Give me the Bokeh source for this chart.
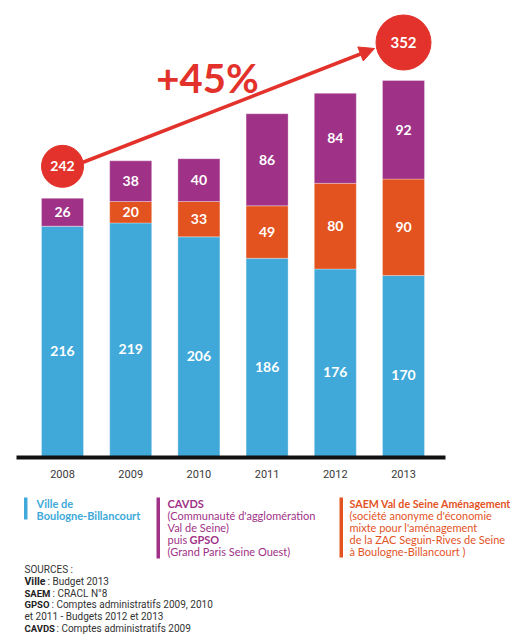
from bokeh.plotting import figure
from bokeh.models import Range1d, Arrow, NormalHead, ColumnDataSource
from bokeh.core.properties import value
from bokeh.embed import file_html
from bokeh.resources import INLINE

# ---- data ----
years = ["2008", "2009", "2010", "2011", "2012", "2013"]
ville = [216, 219, 206, 186, 176, 170]
saem = [0, 20, 33, 49, 80, 90]
gpso = [26, 38, 40, 86, 84, 92]
totals = [a + b + c for a, b, c in zip(ville, saem, gpso)]

legend_ville = ["Ville de", "Boulogne-Billancourt"]
legend_gpso = ["CAVDS", "(Communauté d'agglomération", "Val de Seine)", "puis", "GPSO", "(Grand Paris Seine Ouest)"]
legend_saem = ["SAEM Val de Seine Aménagement", "(société anonyme d'économie", "mixte pour l'aménagement",
               "de la ZAC Seguin-Rives de Seine", "à Boulogne-Billancourt )"]
sources = [("", "SOURCES :"), ("Ville", ": Budget 2013"), ("SAEM", ": CRACL N°8"),
           ("GPSO", ": Comptes administratifs 2009, 2010"), ("", "et 2011 - Budgets 2012 et 2013"),
           ("CAVDS", ": Comptes administratifs 2009")]

BLUE = "#40a9d9"
ORANGE = "#e3531f"
PURPLE = "#9f3287"
RED = "#e2322b"
DARK = "#3a3a3a"
FONT = "Lato"

# pixel helpers (page pixels -> data)
PX0, PXSTEP, BASE, SCALE = 62.0, 68.2, 457.0, 1.071
def X(px):
    return (px - PX0) / PXSTEP
def Y(py):
    return (BASE - py) / SCALE

W, H = 519, 635
p = figure(width=W, height=H, x_range=Range1d(X(0), X(W)), y_range=Range1d(Y(H), Y(0)),
           output_backend="svg", toolbar_location=None, min_border=0,
           x_axis_type=None, y_axis_type=None)
p.grid.visible = False
p.outline_line_color = None
p.background_fill_color = "white"

xs = list(range(len(years)))
src = ColumnDataSource(dict(x=xs, ville=ville, saem=saem, gpso=gpso))
p.vbar_stack(["ville", "saem", "gpso"], x="x", width=0.616, color=[BLUE, ORANGE, PURPLE],
             line_color="white", line_width=0.6, line_alpha=0.5, source=src)

# segment labels
lx, ly, lt = [], [], []
for i in xs:
    base = 0
    for k, v in enumerate((ville[i], saem[i], gpso[i])):
        if v > 0:
            off = -9 / SCALE if k == 0 else 0
            lx.append(i)
            ly.append(base + v / 2 + off)
            lt.append(str(v))
        base += v
p.text(x=lx, y=ly, text=lt, text_color="white", text_font=value(FONT), text_font_style="bold",
       text_font_size="14px", text_align="center", text_baseline="middle")

# baseline
p.segment(x0=[X(16)], y0=[0], x1=[X(445)], y1=[0], line_width=4, line_color="#111111")

# year labels
p.text(x=xs, y=[Y(473)] * len(xs), text=years, text_color=DARK, text_font=value("Roboto"),
       text_font_size="11px", text_align="center", text_baseline="middle")

# total circles
cx = [0, len(years) - 1]
cy = [totals[0] + 32 / SCALE, totals[-1] + 38 / SCALE]
p.scatter(x=cx, y=cy, size=[42, 55], fill_color=RED, line_color=RED)
p.text(x=cx, y=cy, text=[str(totals[0]), str(totals[-1])], text_color="white",
       text_font=value(FONT), text_font_style="bold", text_font_size=["14px", "15px"],
       text_align="center", text_baseline="middle")

# arrow
p.add_layout(Arrow(end=NormalHead(size=15, fill_color=RED, line_color=RED),
                   x_start=X(82), y_start=Y(162), x_end=X(374), y_end=Y(48),
                   line_color=RED, line_width=3.5))
pct = round((totals[-1] - totals[0]) / totals[0] * 100)
p.text(x=[X(207)], y=[Y(77)], text=[f"+{pct}%"], text_color=RED, text_font=value(FONT),
       text_font_style="bold", text_font_size="40px", text_align="center", text_baseline="middle")

# legend colour bars
p.quad(left=[X(23.5), X(156), X(339)], right=[X(27), X(159.5), X(342.5)],
       bottom=[Y(519), Y(558), Y(557)], top=[Y(497), Y(497), Y(497)],
       fill_color=[BLUE, PURPLE, ORANGE], line_color=None)

def txt(px, py, s, size, color, bold=False, font=FONT):
    p.text(x=[X(px)], y=[Y(py)], text=[s], text_color=color, text_font=value(font),
           text_font_style="bold" if bold else "normal", text_font_size=size,
           text_align="left", text_baseline="middle")

# legend texts
txt(36, 503, legend_ville[0], "11px", BLUE, True)
txt(36, 515, legend_ville[1], "11px", BLUE, True)

txt(167, 503, legend_gpso[0], "11px", PURPLE, True)
txt(167, 515, legend_gpso[1], "11px", PURPLE)
txt(167, 527, legend_gpso[2], "11px", PURPLE)
txt(167, 539, legend_gpso[3], "11px", PURPLE)
txt(189, 539, legend_gpso[4], "11px", PURPLE, True)
txt(167, 551, legend_gpso[5], "11px", PURPLE)

for j, s in enumerate(legend_saem):
    txt(349, 503 + 12 * j, s, "10.7px" if j == 0 else "11px", ORANGE, j == 0)

# sources
reg_x = {"Ville": 47, "SAEM": 52, "GPSO": 51, "CAVDS": 56}
bold_size = {"Ville": "10.5px", "SAEM": "9.5px", "GPSO": "9.5px", "CAVDS": "9.5px"}
for j, (b, r) in enumerate(sources):
    yy = 569 + 11.8 * j
    if b:
        txt(24, yy, b, bold_size[b], "#222222", True, "Roboto")
        txt(reg_x[b], yy, r, "10px", "#333333", False, "Roboto")
    else:
        txt(24, yy, r, "10px", "#333333", False, "Roboto")

open("out.html", "w").write(file_html(p, INLINE))
